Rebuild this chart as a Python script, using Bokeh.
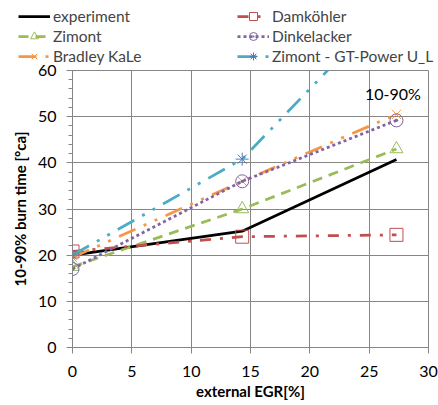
from bokeh.plotting import figure
from bokeh.models import Legend, LegendItem, Label, FixedTicker, Range1d
from bokeh.embed import file_html
from bokeh.resources import INLINE

egr = [0, 14.3, 27.3]
experiment = [20.0, 25.2, 40.7]
zimont = [17.5, 30.0, 43.0]
bradley = [19.5, 36.0, 50.5]
damkoehler = [20.8, 24.0, 24.4]
dinkelacker = [17.0, 36.0, 49.2]
gtpower = [20.0, 40.8, 75.5]

x_ticks = [0, 5, 10, 15, 20, 25, 30]
y_ticks = [0, 10, 20, 30, 40, 50, 60]

FONT = "Lato"

series = [
    # label, data, color, dash, marker, marker color
    ("experiment", experiment, "black", "solid", None, None),
    ("Zimont", zimont, "#9BBB59", "10 7", "triangle", "#9BBB59"),
    ("Bradley KaLe", bradley, "#F79646", "18 9 3 9 3 9", "x", "#F79646"),
    ("Damköhler", damkoehler, "#C0504D", "11 9 3 9", "square", "#C0504D"),
    ("Dinkelacker", dinkelacker, "#8064A2", "3 3", "circle_dot", "#8064A2"),
    ("Zimont - GT-Power U_L", gtpower, "#4BACC6", "19 9 3 9 3 9", "asterisk", "#4A7EBB"),
]

W, H = 438, 405
LEG_H = 68      # height of legend strip
OVERLAP = 8     # main chart pulled up over the strip's empty lower edge
P_TOP = LEG_H - OVERLAP

# ---- main chart ----
p = figure(width=W, height=H - P_TOP, output_backend="svg", toolbar_location=None,
           x_range=Range1d(0, 30), y_range=Range1d(0, 60))
p.margin = (-OVERLAP, 0, 0, 0)
p.min_border_left = 72
p.min_border_right = 10
p.min_border_top = 70 - P_TOP
p.min_border_bottom = 58
p.outline_line_color = "#868686"
p.background_fill_color = "white"
p.border_fill_color = None
p.border_fill_alpha = 0

for ax in (p.xaxis[0], p.yaxis[0]):
    ax.axis_line_color = "#868686"
    ax.major_tick_line_color = "#868686"
    ax.minor_tick_line_color = "#868686"
    ax.major_label_text_font = FONT
    ax.major_label_text_font_size = "16px"
    ax.major_label_text_color = "black"
    ax.axis_label_text_font = FONT
    ax.axis_label_text_font_style = "bold"
    ax.axis_label_text_font_size = "15px"
    ax.axis_label_text_color = "black"
    ax.major_tick_out = 6
    ax.major_tick_in = 0

p.xaxis.ticker = FixedTicker(ticks=x_ticks)
p.yaxis.ticker = FixedTicker(ticks=y_ticks, minor_ticks=[v for v in range(0, 61, 2)])
p.xaxis.minor_tick_line_color = None
p.yaxis.minor_tick_out = 4
p.yaxis.minor_tick_in = 0
p.xaxis.major_label_standoff = 12
p.yaxis.major_label_standoff = 10
p.xaxis.axis_label = "external EGR[%]"
p.yaxis.axis_label = "10-90% burn time [°ca]"
p.xaxis.axis_label_standoff = 2
p.yaxis.axis_label_standoff = 6

p.xgrid.ticker = FixedTicker(ticks=x_ticks)
p.ygrid.ticker = FixedTicker(ticks=y_ticks)
p.grid.grid_line_color = "#868686"
p.grid.grid_line_width = 1

# ---- legend strip (same series, drawn off-range so only legend glyphs show) ----
lf = figure(width=W, height=LEG_H, output_backend="svg", toolbar_location=None,
            x_range=Range1d(0, 30), y_range=Range1d(1000, 1001),
            x_axis_location=None, y_axis_location=None)
lf.grid.visible = False
lf.outline_line_color = None
lf.min_border_left = 0
lf.min_border_right = 0
lf.min_border_top = 0
lf.min_border_bottom = 0
lf.border_fill_color = "white"
lf.background_fill_color = "white"

leg_items = []
for label, data, color, dash, marker, mcolor in series:
    p.line(egr, data, line_color=color, line_width=2.75, line_dash=dash)
    rs = [lf.line(egr, data, line_color=color, line_width=2.75, line_dash=dash)]
    if marker is not None:
        kw = dict(marker=marker, size=13, line_color=mcolor, line_width=1)
        if marker in ("triangle", "square", "circle_dot"):
            kw["fill_color"] = None
        p.scatter(egr, data, **kw)
        rs.append(lf.scatter(egr, data, **kw))
    leg_items.append(LegendItem(label=label, renderers=rs))

def make_legend(items, loc):
    lg = Legend(items=items, location=loc, orientation="vertical",
                label_text_font=FONT, label_text_font_size="15.5px",
                glyph_width=32, glyph_height=20, spacing=0,
                label_standoff=3, padding=0, margin=0,
                border_line_color=None, background_fill_alpha=0,
                label_height=20)
    lg.item_background_fill_alpha = 0
    return lg

lf.add_layout(make_legend(leg_items[:3], (18, LEG_H - 66)))
lf.add_layout(make_legend(leg_items[3:], (237, LEG_H - 66)))

lab = Label(x=27.0, y=55.0, text="10-90%", text_font=FONT, text_font_size="16px",
            text_align="center", text_baseline="middle", text_color="black")
p.add_layout(lab)

open("out.html", "w").write(file_html([lf, p], INLINE))
